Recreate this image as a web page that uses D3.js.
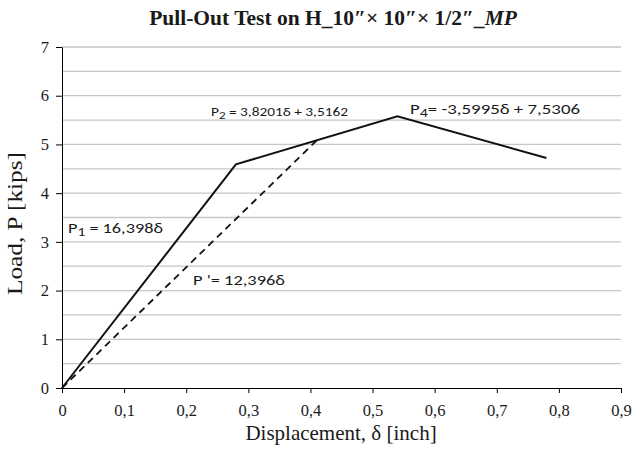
<!DOCTYPE html>
<html>
<head>
<meta charset="utf-8">
<script src="https://cdn.jsdelivr.net/npm/d3@7"></script>
<style>
  body { margin: 0; background: #fff; }
  svg { display: block; }
</style>
</head>
<body>
<svg id="chart" width="635" height="451"></svg>
<script>
// Bilinear load–displacement curve (solid) and secant stiffness line (dashed)
const curveDisp = [0, 0.28, 0.54, 0.78];
const curveLoad = [0, 4.59, 5.58, 4.72];
const secantDisp = [0, 0.41];
const secantLoad = [0, 5.08];

const xTicks = [0, 0.1, 0.2, 0.3, 0.4, 0.5, 0.6, 0.7, 0.8, 0.9];
const xTickLabels = ["0", "0,1", "0,2", "0,3", "0,4", "0,5", "0,6", "0,7", "0,8", "0,9"];
const yTicks = [0, 1, 2, 3, 4, 5, 6, 7];
const yGrid = [0.5, 1, 1.5, 2, 2.5, 3, 3.5, 4, 4.5, 5, 5.5, 6, 6.5, 7];

const svg = d3.select("#chart");
const plotLeft = 62, plotRight = 621, plotTop = 47, plotBottom = 388;

const x = d3.scaleLinear().domain([0, 0.9]).range([plotLeft, plotRight]);
const y = d3.scaleLinear().domain([0, 7]).range([plotBottom, plotTop]);

// horizontal gridlines
svg.append("g").selectAll("line").data(yGrid).join("line")
  .attr("x1", plotLeft).attr("x2", plotRight)
  .attr("y1", d => y(d)).attr("y2", d => y(d))
  .attr("stroke", "#c6c6c6").attr("stroke-width", 1.3);

const serif = "'Liberation Serif', 'Times New Roman', serif";

// x axis
const xAxis = d3.axisBottom(x).tickValues(xTicks)
  .tickFormat((d, i) => xTickLabels[i]).tickSize(5).tickSizeOuter(0).tickPadding(4);
const gx = svg.append("g").attr("transform", `translate(0,${plotBottom})`).call(xAxis);
gx.select(".domain").attr("stroke", "#000");
gx.selectAll(".tick line").attr("stroke", "#000");
gx.selectAll(".tick text").attr("font-family", serif).attr("font-size", 16.5)
  .attr("fill", "#1a1a1a").attr("dy", "1.13em");

// y axis
const yAxis = d3.axisLeft(y).tickValues(yTicks).tickFormat(d3.format("d"))
  .tickSize(6).tickSizeOuter(0).tickPadding(7);
const gy = svg.append("g").attr("transform", `translate(${plotLeft},0)`).call(yAxis);
gy.select(".domain").attr("stroke", "#000");
gy.selectAll(".tick line").attr("stroke", "#000");
gy.selectAll(".tick text").attr("font-family", serif).attr("font-size", 16.5).attr("fill", "#1a1a1a");

// curves
const line = d3.line().x(d => x(d[0])).y(d => y(d[1]));
svg.append("path")
  .datum(secantDisp.map((d, i) => [d, secantLoad[i]]))
  .attr("d", line).attr("fill", "none")
  .attr("stroke", "#111").attr("stroke-width", 1.8).attr("stroke-dasharray", "7,5");
svg.append("path")
  .datum(curveDisp.map((d, i) => [d, curveLoad[i]]))
  .attr("d", line).attr("fill", "none")
  .attr("stroke", "#111").attr("stroke-width", 2).attr("stroke-linejoin", "miter");

// title
const title = svg.append("text").attr("x", 333).attr("y", 25)
  .attr("text-anchor", "middle").attr("font-family", serif)
  .attr("font-size", 21.5).attr("font-weight", "bold").attr("fill", "#1a1a1a");
title.append("tspan").text("Pull-Out Test on H_10\u2033\u00d7 10\u2033\u00d7 1/2\u2033_");
title.append("tspan").attr("font-style", "italic").text("MP");

// axis titles
svg.append("text").attr("x", 341).attr("y", 440).attr("text-anchor", "middle")
  .attr("font-family", serif).attr("font-size", 21).attr("fill", "#1a1a1a")
  .text("Displacement, \u03b4 [inch]");
svg.append("text").attr("transform", "translate(22,223.5) rotate(-90)")
  .attr("text-anchor", "middle").attr("font-family", serif).attr("font-size", 21)
  .attr("textLength", 143).attr("lengthAdjust", "spacingAndGlyphs")
  .attr("fill", "#1a1a1a").text("Load, P [kips]");

// equation annotations
const sans = "Carlito, Lato, 'Open Sans', sans-serif";
function eq(px, py, size, width, main, sub, rest) {
  const t = svg.append("text").attr("x", px).attr("y", py)
    .attr("font-family", sans).attr("font-size", size).attr("fill", "#1a1a1a")
    .attr("textLength", width).attr("lengthAdjust", "spacingAndGlyphs");
  t.append("tspan").text(main);
  if (sub) {
    t.append("tspan").attr("baseline-shift", "-25%").attr("font-size", size * 0.85).text(sub);
  }
  t.append("tspan").attr("baseline-shift", "0").text(rest);
}
eq(68, 233, 14, 95, "P", "1", " = 16,398\u03b4");
eq(211, 116, 13, 137, "P", "2", " = 3,8201\u03b4 + 3,5162");
eq(410, 114, 15, 170, "P", "4", "= -3,5995\u03b4 + 7,5306");
eq(193, 285, 14, 92, "P '= 12,396\u03b4", null, "");
</script>
</body>
</html>
